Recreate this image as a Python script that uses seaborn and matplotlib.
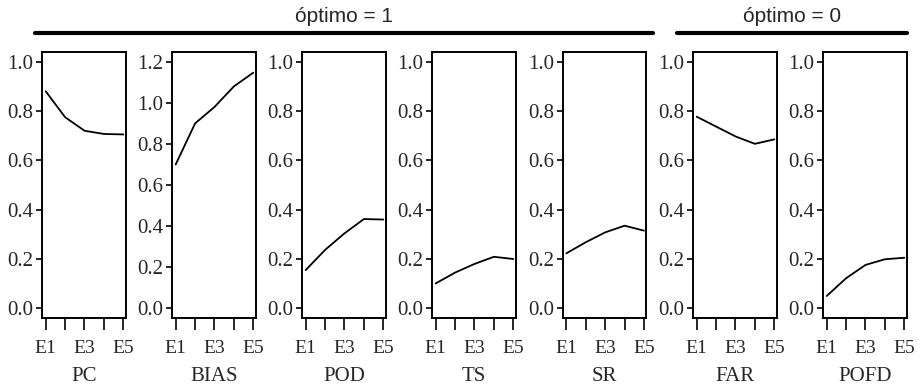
import matplotlib
matplotlib.use("Agg")
import matplotlib.pyplot as plt
from matplotlib.lines import Line2D
import pandas as pd
import seaborn as sns

# ------- DATA ----------------------------------
members = ["E1", "E2", "E3", "E4", "E5"]
pc = [0.880, 0.775, 0.720, 0.707, 0.705]
bias = [0.700, 0.900, 0.980, 1.080, 1.147]
pod = [0.155, 0.237, 0.304, 0.362, 0.360]
ts = [0.101, 0.145, 0.180, 0.209, 0.200]
sr = [0.223, 0.268, 0.308, 0.335, 0.315]
far = [0.777, 0.737, 0.697, 0.667, 0.685]
pofd = [0.050, 0.122, 0.176, 0.199, 0.205]

metrics = ["PC", "BIAS", "POD", "TS", "SR", "FAR", "POFD"]
series = [pc, bias, pod, ts, sr, far, pofd]
x_tick_labels = ["E1", "", "E3", "", "E5"]
groups = [("óptimo = 1", "PC", "SR"), ("óptimo = 0", "FAR", "POFD")]

rows = []
for m, vals in zip(metrics, series):
    for i, v in enumerate(vals):
        rows.append({"metric": m, "member": i + 1, "value": v})
df = pd.DataFrame(rows)

# ------- STYLE ---------
sns.set_style("ticks")
plt.rcParams["font.family"] = ["Liberation Serif", "DejaVu Serif"]
plt.rcParams["axes.linewidth"] = 1.4
plt.rcParams["xtick.major.width"] = 1.4
plt.rcParams["ytick.major.width"] = 1.4

W, H = 921, 388
fig = plt.figure(figsize=(W / 100, H / 100), dpi=100)

lefts = [42.3, 172.3, 302.3, 432.3, 563.0, 693.3, 823.3]
box_w = 83.4
box_top, box_bot = 51.7, 317.7

axes = {}
for m, left in zip(metrics, lefts):
    ax = fig.add_axes([left / W, 1 - box_bot / H, box_w / W, (box_bot - box_top) / H])
    sns.lineplot(data=df[df["metric"] == m], x="member", y="value", ax=ax,
                 color="black", linewidth=1.3)
    ax.set_xlim(0.825, 5.124)
    if m == "BIAS":
        ax.set_ylim(-0.046, 1.249)
        ax.set_yticks([0.0, 0.2, 0.4, 0.6, 0.8, 1.0, 1.2])
    else:
        ax.set_ylim(-0.038, 1.0405)
        ax.set_yticks([0.0, 0.2, 0.4, 0.6, 0.8, 1.0])
    ax.yaxis.set_major_formatter(matplotlib.ticker.FormatStrFormatter("%.1f"))
    ax.set_xticks([1, 2, 3, 4, 5])
    ax.set_xticklabels(x_tick_labels)
    ax.tick_params(axis="y", direction="out", length=4.5, pad=2, labelsize=15)
    ax.tick_params(axis="x", direction="out", length=8.5, pad=7.5, labelsize=14)
    ax.set_xlabel(m, fontsize=15, labelpad=7)
    ax.set_ylabel("")
    for s in ax.spines.values():
        s.set_visible(True)
        s.set_color("black")
    axes[m] = ax

# ------- GROUP HEADERS ---------
header_x = {("PC", "SR"): (35, 653), ("FAR", "POFD"): (677, 907)}
for label, first, last in groups:
    x0, x1 = header_x[(first, last)]
    y = 1 - 33.3 / H
    fig.add_artist(Line2D([x0 / W, x1 / W], [y, y], transform=fig.transFigure,
                          color="black", linewidth=3))
    fig.text((x0 + x1) / 2 / W, 1 - 16.5 / H, label, ha="center", va="center",
             fontsize=15, family=["Liberation Sans", "DejaVu Sans"])

fig.savefig("out.png", dpi=100)
